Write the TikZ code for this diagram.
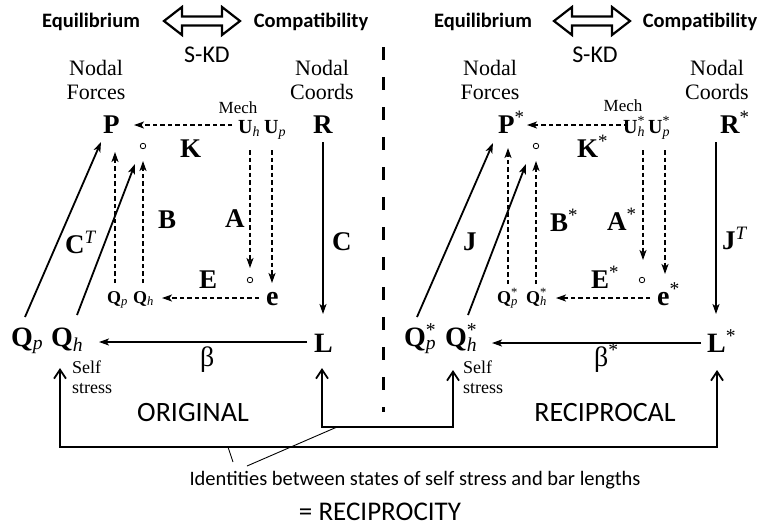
\documentclass[tikz,border=0pt]{standalone}
\usepackage{fontspec}
\setmainfont{Liberation Serif}
\newfontfamily\calib{Carlito}
\usetikzlibrary{arrows.meta}
\newcommand\fs[2]{\fontsize{#1}{#2}\selectfont}
\newcommand\sub[1]{\textsubscript{\mdseries\itshape #1}}
\newcommand\st{\textsuperscript{\mdseries *}}
\newcommand\stsub[1]{\rlap{\textsuperscript{\mdseries *}}\textsubscript{\mdseries\itshape #1}}
\begin{document}
\begin{tikzpicture}[x=1pt,y=-1pt,
  every node/.style={inner sep=0pt},
  sym/.style={anchor=base west,font=\fs{27}{27}\bfseries},
  bsym/.style={anchor=base west,font=\fs{28}{28}\bfseries},
  esym/.style={anchor=base west,font=\fs{28}{28}\bfseries},
  usym/.style={anchor=base west,font=\fs{20}{20}\bfseries},
  ssym/.style={anchor=base west,font=\fs{18}{18}\bfseries},
  lbl/.style={font=\fs{22}{24},align=center},
  mech/.style={font=\fs{17}{17}},
  selfs/.style={anchor=base west,font=\fs{18}{20},align=left},
  greek/.style={anchor=base west,font=\fs{28}{28}},
  head/.style={font=\calib\fs{20.5}{20.5}\bfseries},
  skd/.style={font=\calib\fs{24}{24}},
  side/.style={font=\calib\fs{28}{28}},
  idt/.style={font=\calib\fs{20.5}{20.5}},
  circ/.style={circle,draw,line width=0.8pt,minimum size=5.5pt},
  solidarr/.style={line width=1.8pt,-{Stealth[length=10pt,width=7pt,inset=2.5pt]}},
  dasharr/.style={line width=1.6pt,dash pattern=on 4.5pt off 3pt,-{Stealth[length=10pt,width=7pt,inset=2.5pt]}},
  bracket/.style={line width=1.8pt,{Straight Barb[length=9pt,width=12pt]}-{Straight Barb[length=9pt,width=12pt]}},
  pointer/.style={line width=0.9pt},
  dblarrow/.style={line width=2.2pt,line join=miter},
  divider/.style={line width=3pt,dash pattern=on 13pt off 17pt}
]
\useasboundingbox (0,0) rectangle (764,528);
\fill[white] (0,0) rectangle (764,528);

% ---------- headers ----------
\node[head] (eq1) at (91,22) {Equilibrium};
\node[head] (co1) at (311,22) {Compatibility};
\node[skd] (skd1) at (207,55) {S-KD};
\node[head] (eq2) at (483,22) {Equilibrium};
\node[head] (co2) at (700,22) {Compatibility};
\node[skd] (skd2) at (595,55) {S-KD};
\foreach \cx in {202,592}{
  \draw[dblarrow] (\cx-38,21) -- (\cx-20,7) -- (\cx-20,16.5) -- (\cx+20,16.5) -- (\cx+20,7)
    -- (\cx+38,21) -- (\cx+20,35) -- (\cx+20,25.5) -- (\cx-20,25.5) -- (\cx-20,35) -- cycle;
}

% ---------- divider ----------
\coordinate (dtop) at (383,47);
\coordinate (dbot) at (383,412);
\draw[divider] (dtop) -- (dbot);

% ---------- LEFT: ORIGINAL ----------
\node[lbl] (nf1) at (96,80) {Nodal\\Forces};
\node[lbl] (nc1) at (322,80) {Nodal\\Coords};
\node[mech] (me1) at (238,108) {Mech};
\node[sym] (P1) at (103,133) {P};
\node[usym] (Uh1) at (238,133) {U\sub{h}};
\node[usym] (Up1) at (264,133) {U\sub{p}};
\node[sym] (R1) at (313,133) {R};
\node[circ] (ca1) at (143,146) {};
\node[sym] (K1) at (180,157) {K};
\node[sym] (B1) at (158,228) {B};
\node[sym] (CT1) at (65,253) {C\textsuperscript{\mdseries\itshape T}};
\node[sym] (A1) at (225,227) {A};
\node[sym] (C1) at (332,250) {C};
\node[sym] (E1) at (199,288) {E};
\node[circ] (cb1) at (250,280) {};
\node[esym] (e1) at (266,305) {e};
\node[ssym] (qp1) at (107,303) {Q\sub{p}};
\node[ssym] (qh1) at (133,303) {Q\sub{h}};
\node[bsym] (Qp1) at (11,346) {Q\sub{p}};
\node[bsym] (Qh1) at (51,346) {Q\sub{h}};
\node[bsym] (L1) at (314,352) {L};
\node[greek] (be1) at (200,366) {β};
\node[selfs] (ss1) at (72,393) {Self\\stress};
\node[side] (or1) at (193,413) {ORIGINAL};

\coordinate (k1s) at (232,125);  \coordinate (k1e) at (134,125);
\draw[dasharr] (k1s) -- (k1e);
\coordinate (ct1s) at (25,317);  \coordinate (ct1e) at (101,142);
\draw[solidarr] (ct1s) -- (ct1e);
\coordinate (ct1s2) at (77,315); \coordinate (ct1e2) at (135,164);
\draw[solidarr] (ct1s2) -- (ct1e2);
\coordinate (b1s) at (115,283);  \coordinate (b1e) at (115,152);
\draw[dasharr] (b1s) -- (b1e);
\coordinate (b1s2) at (143,283); \coordinate (b1e2) at (143,161);
\draw[dasharr] (b1s2) -- (b1e2);
\coordinate (a1s) at (250,150);  \coordinate (a1e) at (250,268);
\draw[dasharr] (a1s) -- (a1e);
\coordinate (a1s2) at (272,150); \coordinate (a1e2) at (272,283);
\draw[dasharr] (a1s2) -- (a1e2);
\coordinate (e1s) at (259,298);  \coordinate (e1e) at (162,298);
\draw[dasharr] (e1s) -- (e1e);
\coordinate (c1s) at (323,142);  \coordinate (c1e) at (323,314);
\draw[solidarr] (c1s) -- (c1e);
\coordinate (be1s) at (307,342); \coordinate (be1e) at (99,342);
\draw[solidarr] (be1s) -- (be1e);

% ---------- RIGHT: RECIPROCAL ----------
\node[lbl] (nf2) at (490,80) {Nodal\\Forces};
\node[lbl] (nc2) at (717,80) {Nodal\\Coords};
\node[mech] (me2) at (623,106) {Mech};
\node[sym] (P2) at (498,133) {P\st};
\node[usym] (Uh2) at (623,133) {U\stsub{h}};
\node[usym] (Up2) at (648,133) {U\stsub{p}};
\node[sym] (R2) at (720,133) {R\st};
\node[circ] (ca2) at (536,146) {};
\node[sym] (K2) at (577,157) {K\st};
\node[sym] (B2) at (550,231) {B\st};
\node[sym] (J2) at (463,250) {J};
\node[sym] (A2) at (607,230) {A\st};
\node[sym] (JT2) at (722,249) {J\textsuperscript{\mdseries\itshape T}};
\node[sym] (E2) at (591,288) {E\st};
\node[circ] (cb2) at (642,280) {};
\node[esym] (e2) at (657,305) {e\st};
\node[ssym] (qp2) at (497,303) {Q\stsub{p}};
\node[ssym] (qh2) at (526,303) {Q\stsub{h}};
\node[bsym] (Qp2) at (404,346) {Q\stsub{p}};
\node[bsym] (Qh2) at (445,346) {Q\stsub{h}};
\node[bsym] (L2) at (707,352) {L\st};
\node[greek] (be2) at (594,366) {β\st};
\node[selfs] (ss2) at (463,393) {Self\\stress};
\node[side] (re2) at (605,413) {RECIPROCAL};

\coordinate (k2s) at (628,125);  \coordinate (k2e) at (527,125);
\draw[dasharr] (k2s) -- (k2e);
\coordinate (j2s) at (417,317);  \coordinate (j2e) at (493,143);
\draw[solidarr] (j2s) -- (j2e);
\coordinate (j2s2) at (468,315); \coordinate (j2e2) at (526,164);
\draw[solidarr] (j2s2) -- (j2e2);
\coordinate (b2s) at (508,284);  \coordinate (b2e) at (508,148);
\draw[dasharr] (b2s) -- (b2e);
\coordinate (b2s2) at (536,284); \coordinate (b2e2) at (536,161);
\draw[dasharr] (b2s2) -- (b2e2);
\coordinate (a2s) at (643,150);  \coordinate (a2e) at (643,260);
\draw[dasharr] (a2s) -- (a2e);
\coordinate (a2s2) at (665,150); \coordinate (a2e2) at (665,274);
\draw[dasharr] (a2s2) -- (a2e2);
\coordinate (e2s) at (650,298);  \coordinate (e2e) at (556,298);
\draw[dasharr] (e2s) -- (e2e);
\coordinate (jt2s) at (716,142); \coordinate (jt2e) at (716,314);
\draw[solidarr] (jt2s) -- (jt2e);
\coordinate (be2s) at (701,343); \coordinate (be2e) at (492,343);
\draw[solidarr] (be2s) -- (be2e);

% ---------- reciprocity brackets ----------
\coordinate (o1) at (60,368);  \coordinate (o4) at (717,370);
\draw[bracket] (o1) -- (60,447) -- (717,447) -- (o4);
\coordinate (i1) at (322,368); \coordinate (i4) at (453,370);
\draw[bracket] (i1) -- (322,427) -- (453,427) -- (i4);

\node[idt] (id) at (415,480) {Identities between states of self stress and bar lengths};
\node[side,font=\calib\fs{27}{27}] (rec) at (380,512) {= RECIPROCITY};

\coordinate (p1a) at (228,447); \coordinate (p1b) at (233,462);
\coordinate (p2a) at (337,427); \coordinate (p2b) at (247,466);
\draw[pointer] (p1a) -- (p1b);
\draw[pointer] (p2a) -- (p2b);
\end{tikzpicture}
\end{document}
